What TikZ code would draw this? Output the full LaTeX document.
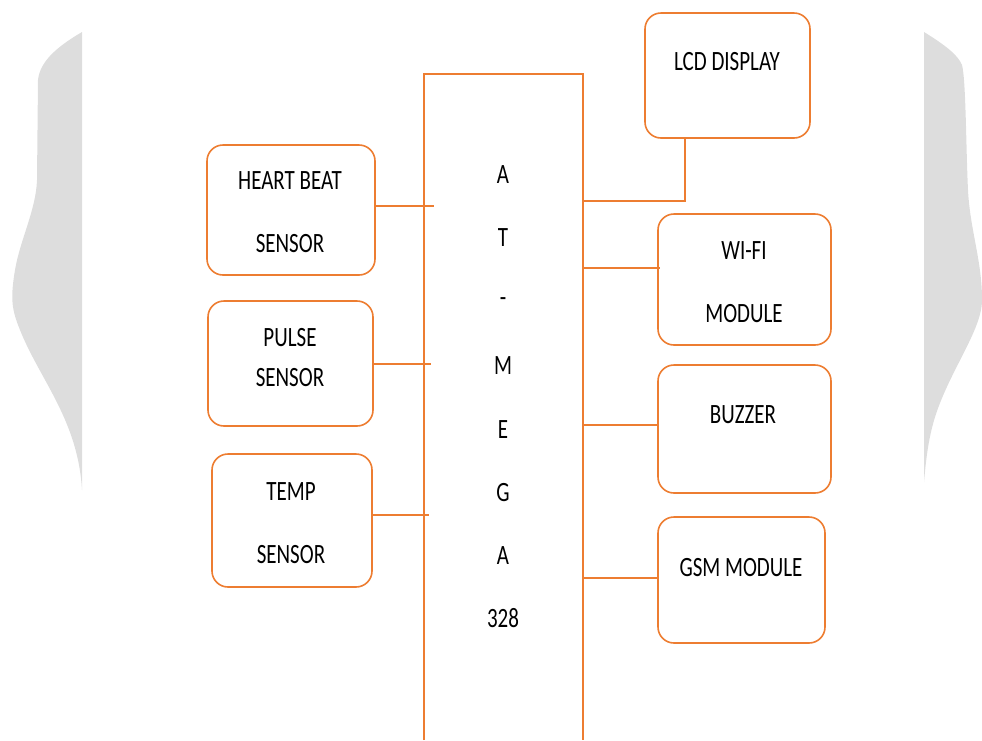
\documentclass[tikz,border=0pt]{standalone}
\usepackage{fontspec}
\setmainfont{Carlito}
\usetikzlibrary{calc}
\definecolor{orng}{RGB}{237,125,49}
\definecolor{bggrey}{RGB}{221,221,221}
\newcommand{\stretchtxt}[1]{\scalebox{1}[1.33]{#1}}
\tikzset{
  blk/.style={draw=orng, line width=1.6pt, rounded corners=16pt, inner sep=0pt},
  lbl/.style={inner sep=0pt, font=\fontsize{21}{25}\selectfont},
  wire/.style={draw=orng, line width=1.6pt},
}
\begin{document}
\begin{tikzpicture}[x=1pt,y=-1pt]
\useasboundingbox (0,0) rectangle (982,740);
% grey background shapes
\fill[bggrey] (82,32) .. controls (60,45) and (40,60) .. (38,80) -- (37,180)
  .. controls (36,210) and (20,240) .. (15,270) .. controls (10,300) and (12,310) .. (20,330)
  .. controls (40,380) and (78,420) .. (82,490) -- cycle;
\fill[bggrey] (924,32) .. controls (945,45) and (958,55) .. (962,65)
  .. controls (966,80) and (966,150) .. (968,190) .. controls (970,230) and (982,260) .. (982,300)
  .. controls (982,330) and (950,370) .. (935,417) .. controls (928,440) and (926,460) .. (924,482) -- cycle;
% microcontroller
\node[inner sep=0pt, minimum width=159pt, minimum height=666pt] (mcu) at (503.5,407) {};
\draw[wire] (mcu.south west) -- (mcu.north west) -- (mcu.north east) -- (mcu.south east);
\node[lbl] (m1) at (503,175) {\stretchtxt{A}};
\node[lbl] (m2) at (503,238) {\stretchtxt{T}};
\node[lbl] (m3) at (503,302) {\stretchtxt{-}};
\node[lbl] (m4) at (503,366) {\stretchtxt{M}};
\node[lbl] (m5) at (503,430) {\stretchtxt{E}};
\node[lbl] (m6) at (503,493) {\stretchtxt{G}};
\node[lbl] (m7) at (503,556) {\stretchtxt{A}};
\node[lbl] (m8) at (503,618) {\stretchtxt{328}};
% left blocks
\node[blk, minimum width=168pt, minimum height=130pt] (hb) at (291,210) {};
\node[lbl] (hbt1) at (290,181) {\stretchtxt{HEART BEAT}};
\node[lbl] (hbt2) at (290,244) {\stretchtxt{SENSOR}};
\node[blk, minimum width=165pt, minimum height=125pt] (pl) at (290.5,363.5) {};
\node[lbl] (plt1) at (290,338) {\stretchtxt{PULSE}};
\node[lbl] (plt2) at (290,378) {\stretchtxt{SENSOR}};
\node[blk, minimum width=160pt, minimum height=133pt] (tp) at (292,520.5) {};
\node[lbl] (tpt1) at (291,492) {\stretchtxt{TEMP}};
\node[lbl] (tpt2) at (291,555) {\stretchtxt{SENSOR}};
% right blocks
\node[blk, minimum width=165pt, minimum height=125pt] (lcd) at (727.5,75.5) {};
\node[lbl] (lcdt) at (727,62) {\stretchtxt{LCD DISPLAY}};
\node[blk, minimum width=173pt, minimum height=131pt] (wf) at (744.5,279.5) {};
\node[lbl] (wft1) at (744,251) {\stretchtxt{WI-FI}};
\node[lbl] (wft2) at (744,314) {\stretchtxt{MODULE}};
\node[blk, minimum width=173pt, minimum height=128pt] (bz) at (744.5,429) {};
\node[lbl] (bzt) at (743,415) {\stretchtxt{BUZZER}};
\node[blk, minimum width=167pt, minimum height=126pt] (gsm) at (741.5,580) {};
\node[lbl] (gsmt) at (741,568) {\stretchtxt{GSM MODULE}};
% connectors left
\draw[wire] ([yshift=4pt]hb.east) -- ++(58,0);
\draw[wire] ([yshift=-0.3pt]pl.east) -- ++(57,0);
\draw[wire] ([yshift=5.5pt]tp.east) -- ++(56,0);
% connectors right
\coordinate (lcdj) at (685,138);
\draw[wire] (lcdj) -- (685,201) -- (mcu.east |- 0,201);
\draw[draw=orng, line width=2.6pt] (lcdj) -- (785,138);
\draw[wire] (mcu.east |- 0,268) -- ([yshift=11.5pt,xshift=3pt]wf.west);
\draw[wire] (mcu.east |- 0,425) -- ([yshift=4pt]bz.west);
\draw[wire] (mcu.east |- 0,578) -- ([yshift=2pt]gsm.west);
\end{tikzpicture}
\end{document}
